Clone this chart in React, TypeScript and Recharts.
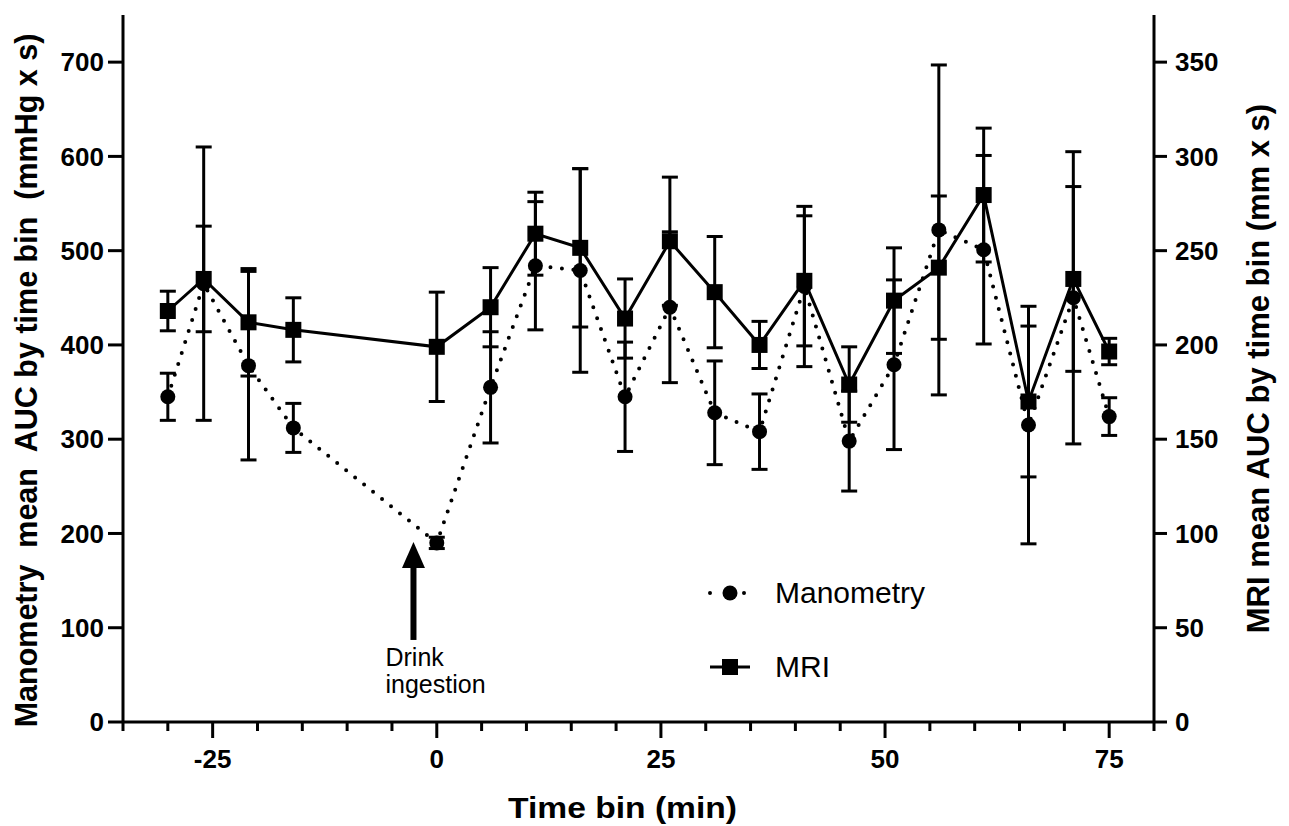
import {
  ComposedChart,
  Line,
  XAxis,
  YAxis,
  ErrorBar,
  Legend,
  ReferenceDot,
} from "recharts";

const FONT = "'Liberation Sans', Arial, Helvetica, sans-serif";

// time bins (min)
const TIME = [-30, -26, -21, -16, 0, 6, 11, 16, 21, 26, 31, 36, 41, 46, 51, 56, 61, 66, 71, 75];

// Manometry mean AUC (mmHg x s) and error (left axis)
const MANO_MEAN = [345, 465, 378, 312, 190, 355, 484, 479, 345, 440, 328, 308, 462, 298, 379, 522, 501, 315, 450, 324];
const MANO_ERR = [25, 145, 100, 26, 6, 59, 68, 108, 58, 80, 55, 40, 85, 53, 90, 175, 100, 126, 155, 20];

// MRI mean AUC (mm x s) and error (right axis)
const MRI_MEAN = [218, 235, 212, 208, 199, 220, 259, 251.5, 214, 255, 228, 200, 234, 179, 223.5, 241, 279.5, 170, 235, 196.5];
const MRI_ERR = [10.5, 28, 28.5, 17, 29, 21, 22, 42, 21, 34, 29.5, 12.5, 34.5, 20, 28, 38, 35.5, 40, 49, 7];

const X_TICKS = [-35, -30, -25, -20, -15, -10, -5, 0, 5, 10, 15, 20, 25, 30, 35, 40, 45, 50, 55, 60, 65, 70, 75, 80];
const LEFT_TICKS = [0, 100, 200, 300, 400, 500, 600, 700];
const RIGHT_TICKS = [0, 50, 100, 150, 200, 250, 300, 350];

// drink ingestion marker
const ARROW_X = -2.6;
const ARROW_TIP = 191;

const data = TIME.map((t, i) => ({
  t,
  mano: MANO_MEAN[i],
  manoErr: MANO_ERR[i],
  mri: MRI_MEAN[i],
  mriErr: MRI_ERR[i],
}));

const tickStyle = { fill: "#000", fontSize: 26, fontWeight: 700, fontFamily: FONT };

function XTick({ x, y, payload }: any) {
  const major = payload.value % 25 === 0;
  return (
    <g>
      <line x1={x} x2={x} y1={y} y2={y + (major ? 16 : 9)} stroke="#000" strokeWidth={3} />
      {major && (
        <text x={x} y={y + 46} textAnchor="middle" {...tickStyle}>
          {payload.value}
        </text>
      )}
    </g>
  );
}

function ManoDot({ cx, cy }: any) {
  if (cx == null || cy == null) return null;
  return <circle cx={cx} cy={cy} r={7.5} fill="#000" />;
}

function MriDot({ cx, cy }: any) {
  if (cx == null || cy == null) return null;
  return <rect x={cx - 8} y={cy - 8} width={16} height={16} fill="#000" />;
}

function ArrowShape({ cx, cy }: any) {
  if (cx == null || cy == null) return null;
  return (
    <g>
      <polygon points={`${cx},${cy} ${cx - 11.5},${cy + 26} ${cx + 11.5},${cy + 26}`} fill="#000" />
      <rect x={cx - 3} y={cy + 24} width={6} height={74} fill="#000" />
      <text x={cx - 28} y={cy + 124} fontSize={25} fontFamily={FONT} fill="#000">
        Drink
      </text>
      <text x={cx - 28} y={cy + 151} fontSize={25} fontFamily={FONT} fill="#000">
        ingestion
      </text>
    </g>
  );
}

function LegendContent() {
  const row = { position: "absolute" as const, left: 0, display: "flex", alignItems: "center", height: 40 };
  return (
    <div style={{ position: "relative", fontFamily: FONT, fontSize: 30, color: "#000" }}>
      <div style={{ ...row, top: 0 }}>
        <svg width={65} height={40}>
          <line x1={5} x2={45} y1={20} y2={20} stroke="#000" strokeWidth={4} strokeDasharray="0 17" strokeLinecap="round" />
          <circle cx={25} cy={20} r={7.5} fill="#000" />
        </svg>
        <span style={{ marginLeft: 5 }}>Manometry</span>
      </div>
      <div style={{ ...row, top: 74 }}>
        <svg width={65} height={40}>
          <line x1={5} x2={45} y1={20} y2={20} stroke="#000" strokeWidth={3} />
          <rect x={17} y={12} width={16} height={16} fill="#000" />
        </svg>
        <span style={{ marginLeft: 5 }}>MRI</span>
      </div>
    </div>
  );
}

export default function App() {
  return (
    <div style={{ position: "absolute", left: 0, top: 0, width: 1289, height: 826, background: "#fff" }}>
      <ComposedChart width={1289} height={826} data={data} margin={{ top: 15, right: 0, bottom: 0, left: 0 }}>
        <XAxis
          dataKey="t"
          type="number"
          domain={[-35, 80]}
          ticks={X_TICKS}
          interval={0}
          height={104}
          tickLine={false}
          tickSize={0}
          tickMargin={0}
          tick={<XTick />}
          axisLine={{ stroke: "#000", strokeWidth: 3 }}
          label={({ viewBox }: any) => (
            <text
              x={viewBox.x + viewBox.width / 2 - 16}
              y={818}
              textAnchor="middle"
              fontSize={30}
              fontWeight={700}
              fontFamily={FONT}
              fill="#000"
              textLength={229}
              lengthAdjust="spacingAndGlyphs"
            >
              Time bin (min)
            </text>
          )}
        />
        <YAxis
          yAxisId="left"
          domain={[0, 750]}
          ticks={LEFT_TICKS}
          interval={0}
          width={123}
          tickSize={15}
          tickMargin={4}
          tick={tickStyle}
          tickLine={{ stroke: "#000", strokeWidth: 3 }}
          axisLine={{ stroke: "#000", strokeWidth: 3 }}
          label={({ viewBox }: any) => {
            const cy = viewBox.y + viewBox.height / 2 + 12;
            return (
              <text
                x={37}
                y={cy}
                transform={`rotate(-90, 37, ${cy})`}
                textAnchor="middle"
                fontSize={30.5}
                fontWeight={700}
                fontFamily={FONT}
                fill="#000"
                style={{ whiteSpace: "pre" }}
              >
                {"Manometry  mean  AUC by time bin  (mmHg x s)"}
              </text>
            );
          }}
        />
        <YAxis
          yAxisId="right"
          orientation="right"
          domain={[0, 375]}
          ticks={RIGHT_TICKS}
          interval={0}
          width={135}
          tickSize={13}
          tickMargin={8}
          tick={tickStyle}
          tickLine={{ stroke: "#000", strokeWidth: 3 }}
          axisLine={{ stroke: "#000", strokeWidth: 3 }}
          label={({ viewBox }: any) => {
            const cy = viewBox.y + viewBox.height / 2;
            return (
              <text
                x={1269}
                y={cy}
                transform={`rotate(-90, 1269, ${cy})`}
                textAnchor="middle"
                fontSize={31}
                fontWeight={700}
                fontFamily={FONT}
                fill="#000"
              >
                MRI mean AUC by time bin (mm x s)
              </text>
            );
          }}
        />
        <Legend
          layout="vertical"
          align="center"
          verticalAlign="middle"
          content={<LegendContent />}
          wrapperStyle={{ left: 705, top: 573, width: 300, height: 120 }}
        />
        <Line
          yAxisId="left"
          type="linear"
          dataKey="mano"
          name="Manometry"
          stroke="#000"
          strokeWidth={4}
          strokeDasharray="0 11.5"
          strokeLinecap="round"
          dot={<ManoDot />}
          activeDot={false}
          isAnimationActive={false}
        >
          <ErrorBar dataKey="manoErr" direction="y" width={8} stroke="#000" strokeWidth={3} isAnimationActive={false} />
        </Line>
        <Line
          yAxisId="right"
          type="linear"
          dataKey="mri"
          name="MRI"
          stroke="#000"
          strokeWidth={3}
          dot={<MriDot />}
          activeDot={false}
          isAnimationActive={false}
        >
          <ErrorBar dataKey="mriErr" direction="y" width={8} stroke="#000" strokeWidth={3} isAnimationActive={false} />
        </Line>
        <ReferenceDot yAxisId="left" x={ARROW_X} y={ARROW_TIP} shape={<ArrowShape />} ifOverflow="visible" />
      </ComposedChart>
    </div>
  );
}
